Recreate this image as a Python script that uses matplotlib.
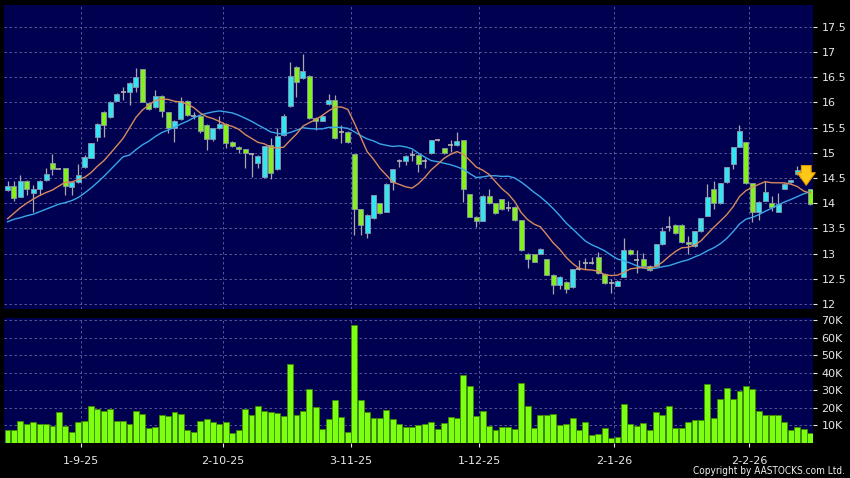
import matplotlib
matplotlib.use('Agg')
import matplotlib.pyplot as plt
from matplotlib import font_manager
import numpy as np
import pandas as pd
from matplotlib.patches import Rectangle

# ---------------- data ----------------
opens = [14.26, 14.33, 14.13, 14.44, 14.20, 14.28, 14.45, 14.79, 14.68, 14.69,
         14.32, 14.42, 14.72, 14.90, 15.32, 15.80, 15.70, 16.03, 16.20, 16.20,
         16.30, 16.66, 15.99, 15.90, 16.13, 15.80, 15.49, 15.66, 16.03, 15.73,
         15.73, 15.55, 15.27, 15.49, 15.57, 15.22, 15.12, 15.07, 14.98, 14.79,
         14.51, 15.15, 14.67, 15.35, 15.92, 16.70, 16.49, 16.53, 15.68, 15.63,
         15.97, 16.05, 15.42, 15.42, 14.97, 13.88, 13.40, 13.70, 14.00, 13.83,
         14.41, 14.84, 14.84, 14.96, 14.96, 14.84, 14.99, 15.26, 15.09, 15.15,
         15.15, 15.25, 14.18, 13.73, 13.65, 14.15, 14.00, 14.08, 13.90, 13.93,
         13.66, 13.00, 12.99, 13.00, 12.89, 12.58, 12.38, 12.44, 12.33, 12.69,
         12.81, 12.81, 12.94, 12.60, 12.41, 12.36, 12.54, 13.08, 12.87, 12.89,
         12.76, 12.75, 13.18, 13.53, 13.57, 13.57, 13.22, 13.14, 13.44, 13.75,
         14.28, 14.00, 14.41, 14.78, 15.12, 15.21, 14.39, 13.83, 14.05, 14.01,
         13.83, 14.29, 14.41, 14.57, 14.67, 14.28]
highs = [14.44, 14.43, 14.55, 14.45, 14.35, 14.46, 14.69, 14.98, 14.70, 14.70,
         14.42, 14.77, 14.95, 15.20, 15.58, 15.82, 16.03, 16.18, 16.30, 16.41,
         16.69, 16.67, 16.00, 16.24, 16.14, 15.81, 15.64, 16.10, 16.04, 15.80,
         15.74, 15.56, 15.50, 15.72, 15.58, 15.23, 15.13, 15.08, 15.00, 14.95,
         15.14, 15.30, 15.50, 15.77, 16.79, 16.72, 16.96, 16.55, 15.70, 15.75,
         16.17, 16.15, 15.55, 15.43, 14.98, 13.89, 13.78, 14.17, 14.01, 14.39,
         14.68, 14.88, 14.96, 15.05, 14.98, 14.90, 15.26, 15.28, 15.10, 15.26,
         15.42, 15.26, 14.19, 13.74, 14.16, 14.28, 14.01, 14.09, 14.05, 13.94,
         13.67, 13.01, 13.00, 13.11, 12.90, 12.59, 12.55, 12.45, 12.70, 12.87,
         12.92, 12.94, 13.04, 12.61, 12.49, 12.47, 13.30, 13.09, 13.07, 13.02,
         12.77, 13.19, 13.53, 13.74, 13.58, 13.58, 13.34, 13.45, 13.71, 14.38,
         14.43, 14.40, 14.72, 15.12, 15.55, 15.22, 14.40, 14.04, 14.43, 14.15,
         14.20, 14.39, 14.46, 14.73, 14.68, 14.29]
lows = [14.24, 14.05, 14.12, 14.16, 13.83, 14.16, 14.44, 14.55, 14.67, 14.16,
        14.16, 14.40, 14.70, 14.89, 15.24, 15.32, 15.68, 16.02, 16.05, 15.95,
        16.20, 16.00, 15.85, 15.88, 15.70, 15.39, 15.21, 15.64, 15.72, 15.66,
        15.40, 15.05, 15.24, 15.48, 15.09, 15.12, 15.00, 14.70, 14.51, 14.70,
        14.50, 14.47, 14.66, 15.34, 15.90, 16.11, 16.47, 15.66, 15.45, 15.62,
        15.95, 15.28, 15.19, 15.20, 13.37, 13.37, 13.30, 13.69, 13.79, 13.82,
        14.27, 14.72, 14.76, 14.84, 14.62, 14.70, 14.98, 15.24, 14.98, 15.02,
        15.14, 14.02, 13.72, 13.52, 13.64, 13.99, 13.79, 13.87, 13.85, 13.65,
        13.06, 12.72, 12.83, 12.99, 12.57, 12.19, 12.30, 12.22, 12.32, 12.67,
        12.70, 12.79, 12.60, 12.40, 12.22, 12.35, 12.53, 12.98, 12.62, 12.74,
        12.66, 12.74, 13.17, 13.45, 13.39, 13.21, 13.00, 13.13, 13.43, 13.74,
        13.88, 13.99, 14.40, 14.67, 15.11, 14.38, 13.62, 13.67, 14.04, 13.85,
        13.82, 14.28, 14.40, 14.56, 14.53, 13.96]
closes = [14.34, 14.10, 14.43, 14.28, 14.28, 14.44, 14.57, 14.68, 14.68, 14.33,
          14.41, 14.55, 14.91, 15.19, 15.56, 15.54, 16.01, 16.16, 16.20, 16.39,
          16.50, 16.01, 15.87, 16.13, 15.82, 15.49, 15.63, 16.03, 15.75, 15.73,
          15.43, 15.27, 15.49, 15.57, 15.19, 15.13, 15.07, 14.99, 14.98, 14.94,
          15.13, 14.60, 15.34, 15.72, 16.53, 16.40, 16.63, 15.68, 15.62, 15.73,
          16.05, 15.30, 15.42, 15.22, 13.88, 13.57, 13.77, 14.16, 13.81, 14.38,
          14.67, 14.84, 14.94, 14.96, 14.77, 14.84, 15.25, 15.26, 14.99, 15.15,
          15.23, 14.29, 13.73, 13.65, 14.15, 14.00, 13.80, 13.88, 13.90, 13.66,
          13.07, 12.89, 12.84, 13.10, 12.58, 12.38, 12.54, 12.29, 12.69, 12.69,
          12.81, 12.81, 12.61, 12.41, 12.41, 12.46, 13.08, 12.99, 12.87, 12.75,
          12.67, 13.18, 13.45, 13.53, 13.40, 13.22, 13.18, 13.44, 13.70, 14.12,
          14.00, 14.39, 14.71, 15.11, 15.44, 14.39, 13.83, 14.03, 14.23, 13.92,
          13.98, 14.38, 14.45, 14.65, 14.54, 13.98]
volumes_k = [7.2, 7.2, 12.5, 11.1, 12.1, 10.9, 10.6, 9.8, 17.5, 9.8,
             6.0, 11.9, 12.5, 21.3, 19.6, 18.5, 19.6, 12.3, 12.8, 11.1,
             18.3, 16.8, 8.5, 9.1, 16.0, 15.3, 17.5, 16.6, 7.4, 6.0,
             12.5, 13.6, 11.7, 10.6, 11.7, 5.7, 7.5, 19.6, 16.2, 20.9,
             18.3, 17.9, 17.0, 15.5, 44.9, 16.2, 18.1, 30.9, 20.4, 7.7,
             13.8, 24.3, 14.7, 6.2, 67.2, 24.7, 17.9, 14.3, 14.0, 18.9,
             13.6, 10.9, 9.2, 9.2, 10.4, 10.6, 12.1, 7.7, 11.5, 14.9,
             14.3, 38.9, 32.6, 15.1, 18.1, 9.4, 7.4, 9.1, 9.2, 8.1,
             34.2, 20.9, 8.3, 15.8, 15.8, 16.6, 10.4, 10.8, 14.2, 7.2,
             11.9, 4.3, 5.3, 8.3, 3.0, 3.6, 22.3, 11.1, 9.6, 11.5,
             7.5, 17.7, 15.8, 21.3, 8.7, 8.7, 12.1, 13.2, 13.2, 33.8,
             14.3, 25.1, 31.1, 25.1, 29.4, 32.6, 30.8, 18.5, 15.8, 15.8,
             15.8, 11.9, 7.2, 9.1, 8.1, 5.8]
# moving averages for the first candles (their windows start before the chart)
ma10_head = [13.69, 13.80, 13.91, 14.00, 14.08, 14.15, 14.21, 14.26, 14.34]
ma20_head = [13.63, 13.68, 13.71, 13.75, 13.78, 13.83, 13.88, 13.93, 13.98, 14.01,
             14.05, 14.11, 14.20, 14.30, 14.41, 14.53, 14.66, 14.79, 14.92]

date_ticks = [11.5, 33.5, 53.5, 73.5, 94.5, 115.5]
date_labels = ['1-9-25', '2-10-25', '3-11-25', '1-12-25', '2-1-26', '2-2-26']
price_ticks = [12, 12.5, 13, 13.5, 14, 14.5, 15, 15.5, 16, 16.5, 17, 17.5]
price_labels = ['12', '12.5', '13', '13.5', '14', '14.5', '15', '15.5', '16', '16.5', '17', '17.5']
vol_ticks = [10, 20, 30, 40, 50, 60, 70]
vol_labels = ['10K', '20K', '30K', '40K', '50K', '60K', '70K']

# ---------------- style ----------------
BG = '#000000'
PANEL = '#000050'
GRID = '#6464a0'
UP = '#33e4f2'
DOWN = '#84f01e'
EDGE = '#8c96aa'
WICK = '#a8a8a8'
TXT = '#e8e8e8'

n = len(closes)
x = np.arange(n)
s = pd.Series(closes)
ma10 = s.rolling(10).mean().to_numpy()
ma20 = s.rolling(20).mean().to_numpy()
ma10[:len(ma10_head)] = ma10_head
ma20[:len(ma20_head)] = ma20_head

fig = plt.figure(figsize=(8.5, 4.78), dpi=100, facecolor=BG)
W, H = 850, 478
left, right = 4 / W, 813 / W
axp = fig.add_axes([left, 1 - 309 / H, right - left, (309 - 5) / H], facecolor=PANEL)
axv = fig.add_axes([left, 1 - 443 / H, right - left, (443 - 318) / H], facecolor=PANEL)

xlim = (-0.55, n - 1 + 0.45)
for ax in (axp, axv):
    ax.set_xlim(*xlim)
    for sp in ax.spines.values():
        sp.set_visible(False)
    ax.set_xticks(date_ticks)
    ax.grid(True, color=GRID, linestyle=(0, (3, 3)), linewidth=0.6)
    ax.set_axisbelow(True)
    ax.yaxis.tick_right()
    ax.tick_params(axis='y', colors=TXT, labelsize=8, length=3, width=0.8, pad=3, direction='out')

# price panel
axp.set_ylim(11.9, 17.93)
axp.set_yticks(price_ticks)
axp.set_yticklabels(price_labels)
axp.tick_params(axis='x', length=0, labelbottom=False)

bw = 0.78
for i in range(n):
    o, h, l, c = opens[i], highs[i], lows[i], closes[i]
    axp.vlines(i, l, h, color=WICK, linewidth=0.9, zorder=2)
    if abs(c - o) < 1e-9:
        axp.hlines(c, i - bw / 2, i + bw / 2, color='#b4b4b4', linewidth=1.2, zorder=3)
    else:
        col = UP if c > o else DOWN
        axp.add_patch(Rectangle((i - bw / 2, min(o, c)), bw, abs(c - o),
                                facecolor=col, edgecolor=EDGE, linewidth=0.6, zorder=3))

axp.plot(x, ma20, color='#3aa6e8', linewidth=1.0, zorder=4)
axp.plot(x, ma10, color='#d88a5c', linewidth=1.0, zorder=5)

# down arrow marker over the last candles
axp.annotate('', xy=(n - 1.6, 14.30), xytext=(n - 1.6, 14.80),
             arrowprops=dict(arrowstyle='simple,head_width=1.3,head_length=0.9,tail_width=0.7',
                             fc='#ffc814', ec='#e89a00', lw=0.8), zorder=6)

# volume panel
axv.set_ylim(0, 71.2)
axv.set_yticks(vol_ticks)
axv.set_yticklabels(vol_labels)
axv.bar(x, volumes_k, width=0.92, color='#7cff10', edgecolor='#3f8a00', linewidth=0.6, zorder=3)
axv.set_xticklabels(date_labels)
axv.tick_params(axis='x', colors=TXT, labelsize=8, length=3, width=0.8, pad=6)

installed = {f.name for f in font_manager.fontManager.ttflist}
if 'Liberation Sans Narrow' in installed:
    cfam, cstretch, csize = 'Liberation Sans Narrow', 'normal', 7.8
else:
    cfam, cstretch, csize = 'DejaVu Sans', 'condensed', 7.2
fig.text(845 / W, 1 - 471 / H, 'Copyright by AASTOCKS.com Ltd.', color='#f0f0f0',
         fontsize=csize, ha='right', va='center', family=cfam, fontstretch=cstretch)

fig.savefig('out.png', dpi=100, facecolor=BG)
